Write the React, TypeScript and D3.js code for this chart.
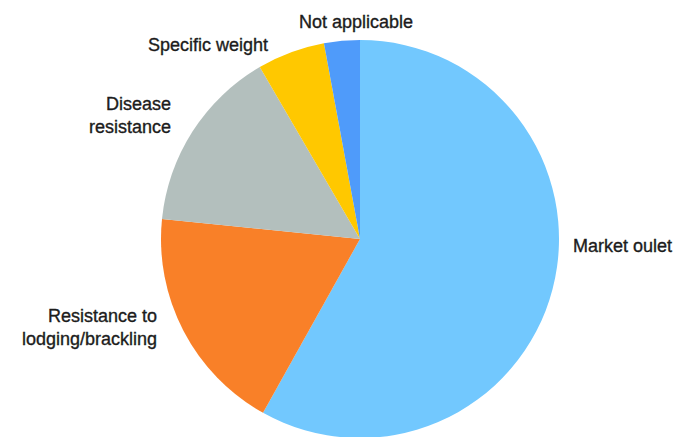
import { useRef, useEffect } from 'react';
import * as d3 from 'd3';

// slices clockwise from 12 o'clock
const categories = ['Market oulet', 'Resistance to lodging/brackling', 'Disease resistance', 'Specific weight', 'Not applicable'];
const shares = [58.1, 18.5, 15.0, 5.5, 2.9];
const labelLines = [['Market oulet'], ['Resistance to', 'lodging/brackling'], ['Disease', 'resistance'], ['Specific weight'], ['Not applicable']];
const colors = ['#72C8FE', '#F98028', '#B3BFBD', '#FFC800', '#4F9BFA'];

// label placement, offset from pie centre (dx, baseline dy of first line, anchor)
const labelPos = [
    { dx: 213, dy: 13, anchor: 'start' },
    { dx: -203, dy: 83, anchor: 'end' },
    { dx: -189, dy: -129, anchor: 'end' },
    { dx: -212, dy: -188, anchor: 'start' },
    { dx: -61, dy: -211, anchor: 'start' },
];

const PieChart = () => {
    const ref = useRef<SVGSVGElement>(null);

    useEffect(() => {
        document.body.style.margin = '0';
        const svg = d3.select(ref.current);
        svg.selectAll('*').remove();

        const width = 677;
        const height = 437;
        const cx = 360, cy = 239, radius = 199;

        const data = categories.map((c, i) => ({ label: c, value: shares[i], lines: labelLines[i] }));

        const g = svg.append('g')
            .attr('transform', `translate(${cx}, ${cy})`);

        const color = d3.scaleOrdinal<string>().domain(categories).range(colors);

        const pie = d3.pie<any>()
            .sort(null)
            .value(d => d.value);

        const path = d3.arc<any>()
            .outerRadius(radius)
            .innerRadius(0);

        g.selectAll('path')
            .data(pie(data))
            .enter().append('path')
            .attr('d', path)
            .attr('fill', d => color(d.data.label));

        const lbl = g.selectAll('.lbl')
            .data(data)
            .enter().append('text')
            .attr('class', 'lbl')
            .attr('text-anchor', (_, i) => labelPos[i].anchor)
            .attr('font-family', 'Liberation Sans, Arial, sans-serif')
            .attr('font-size', '18px')
            .attr('fill', '#1c1c1c')
            .attr('stroke', '#1c1c1c')
            .attr('stroke-width', 0.35);

        lbl.each(function(d, i) {
            const t = d3.select(this);
            d.lines.forEach((line, j) => {
                t.append('tspan')
                    .attr('x', labelPos[i].dx)
                    .attr('y', labelPos[i].dy + j * 23)
                    .text(line);
            });
        });

        svg.attr('width', width).attr('height', height);
    }, []);

    return <svg ref={ref} width={677} height={437} style={{ display: 'block' }}></svg>;
};

export default function App() {
    return <PieChart />;
}
